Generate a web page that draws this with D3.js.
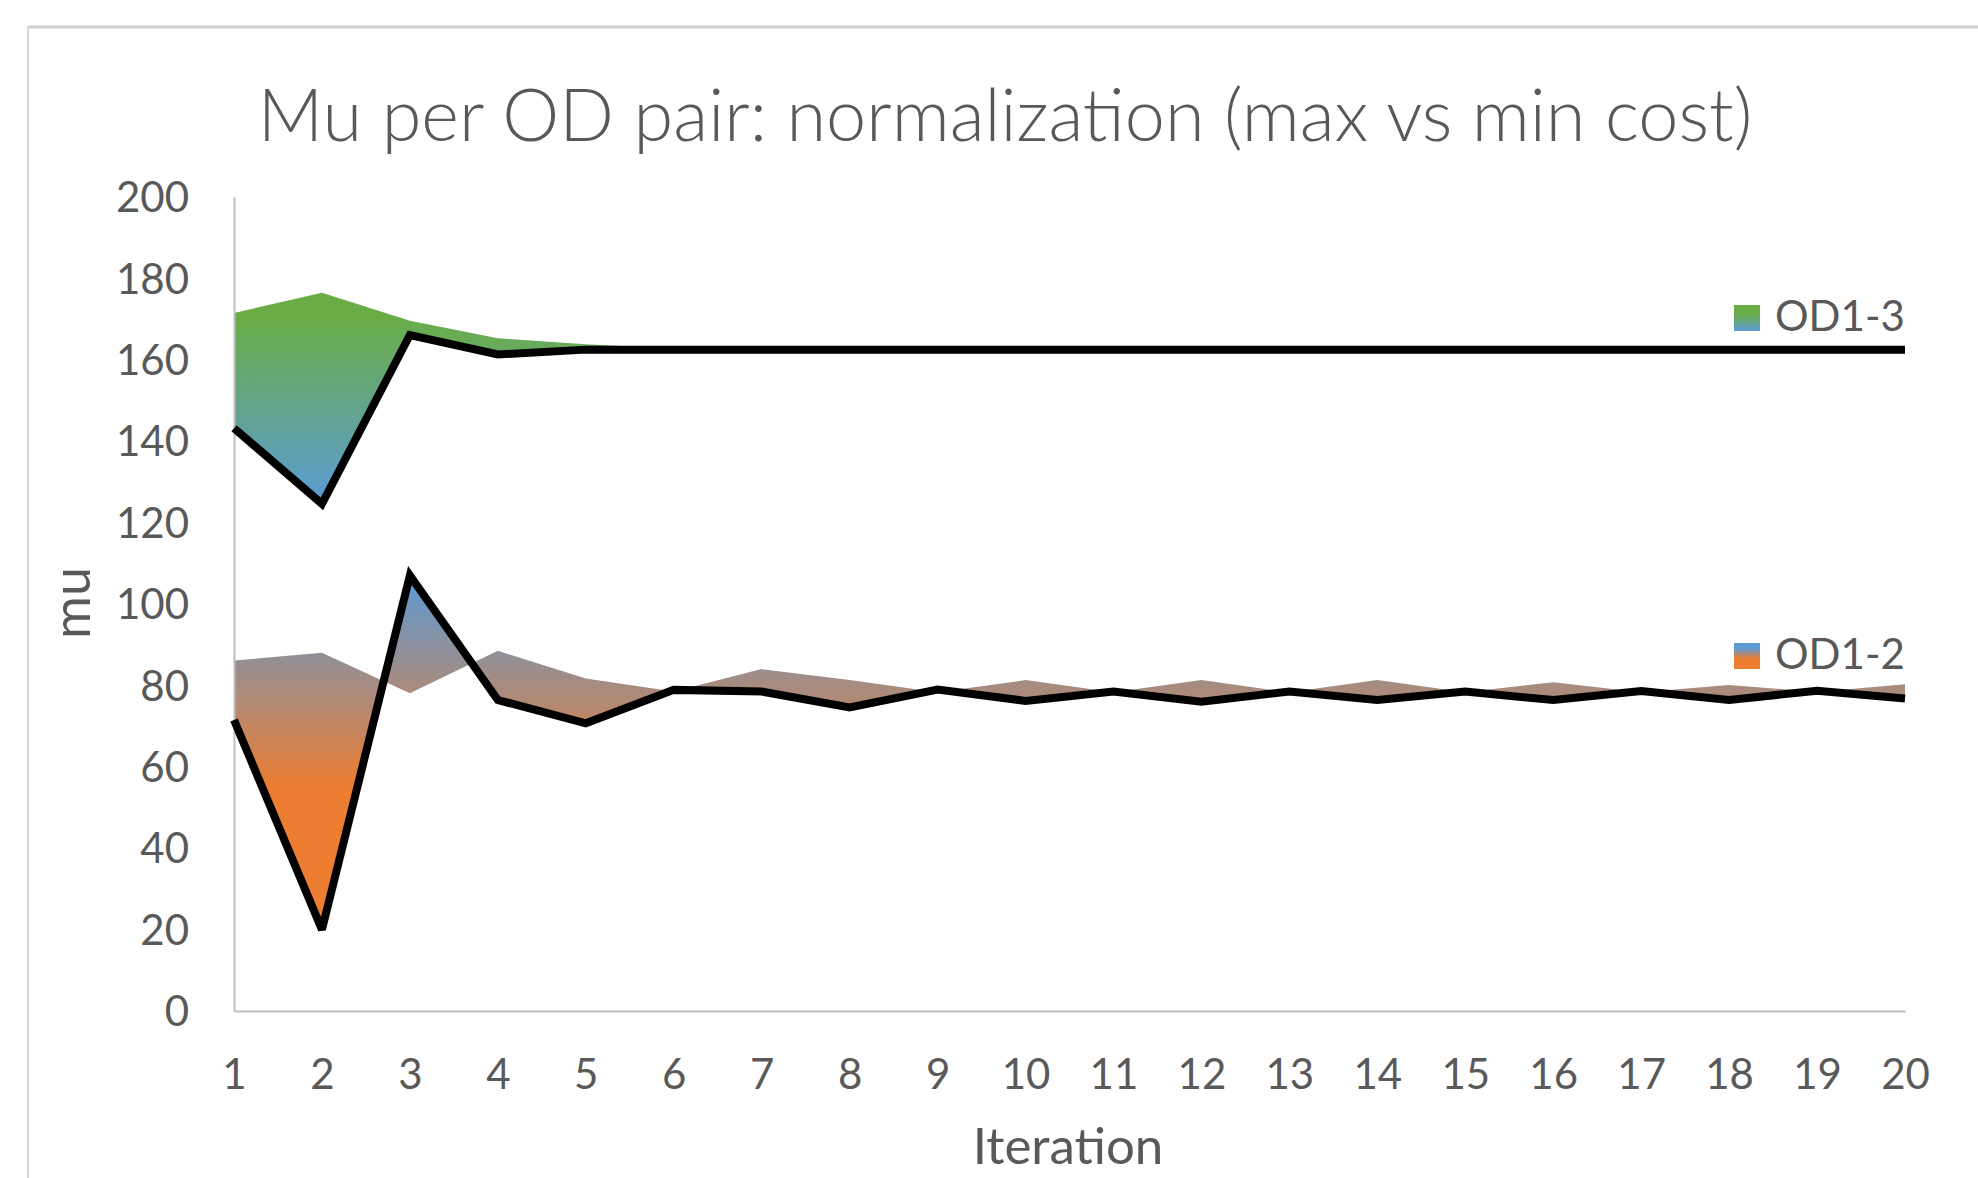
<!DOCTYPE html>
<html>
<head>
<meta charset="utf-8">
<script src="https://cdn.jsdelivr.net/npm/d3@7"></script>
<style>
  body { margin: 0; background: #fff; }
  text { font-family: Lato, "Open Sans", sans-serif; fill: #595959; }
</style>
</head>
<body>
<div id="chart"></div>
<script>
// Data
const iterations = [1, 2, 3, 4, 5, 6, 7, 8, 9, 10, 11, 12, 13, 14, 15, 16, 17, 18, 19, 20];
const yTicks = [0, 20, 40, 60, 80, 100, 120, 140, 160, 180, 200];

// OD1-3: edge of the shaded band, and the black line
const od13Bound = [171.5, 176.5, 169.6, 165.3, 163.8, 162.8, 162.5, 162.5, 162.5, 162.5,
                   162.5, 162.5, 162.5, 162.5, 162.5, 162.5, 162.5, 162.5, 162.5, 162.5];
const od13Line  = [143.2, 124.6, 166.1, 161.3, 162.5, 162.5, 162.5, 162.5, 162.5, 162.5,
                   162.5, 162.5, 162.5, 162.5, 162.5, 162.5, 162.5, 162.5, 162.5, 162.5];

// OD1-2: edge of the shaded band, and the black line
const od12Bound = [86.1, 88.0, 78.1, 88.5, 81.7, 78.5, 84.0, 81.3, 78.3, 81.3,
                   78.3, 81.3, 78.3, 81.3, 78.3, 80.8, 78.3, 80.1, 78.4, 80.3];
const od12Line  = [71.5, 20.0, 107.0, 76.4, 70.7, 78.9, 78.5, 74.6, 79.0, 76.2,
                   78.5, 76.0, 78.5, 76.4, 78.5, 76.4, 78.6, 76.4, 78.7, 76.8];

const seriesNames = ["OD1-3", "OD1-2"];

const width = 1978;
const height = 1178;
const marginTop = 197;
const marginBottom = 167;   // x axis at 1011
const marginLeft = 234;
const marginRight = 73;     // last point at 1905

const x = d3.scaleLinear()
    .domain([1, 20])
    .range([marginLeft, width - marginRight]);

const y = d3.scaleLinear()
    .domain([0, 200])
    .range([height - marginBottom, marginTop]);

const svg = d3.select("#chart")
    .append("svg")
    .attr("width", width)
    .attr("height", height)
    .attr("viewBox", [0, 0, width, height]);

// chart border (Excel chart area, cut off on the right and bottom)
svg.append("rect")
    .attr("x", 28).attr("y", 27)
    .attr("width", width + 20).attr("height", height + 20)
    .attr("fill", "none")
    .attr("stroke", "#d9d9d9")
    .attr("stroke-width", 2);
svg.append("line")
    .attr("x1", 28).attr("x2", width).attr("y1", 27).attr("y2", 27)
    .attr("stroke", "#cfcfcf").attr("stroke-width", 3);

const defs = svg.append("defs");

const green = "#6aad47", blue = "#5b9bd5", orange = "#ed7d31";

function addGradient(id, stops, y1, y2) {
    const g = defs.append("linearGradient").attr("id", id)
        .attr("x1", 0).attr("x2", 0);
    if (y1 === undefined) {
        g.attr("y1", 0).attr("y2", 1);
    } else {
        g.attr("gradientUnits", "userSpaceOnUse")
         .attr("y1", y1).attr("y2", y2);
    }
    g.selectAll("stop").data(stops).join("stop")
        .attr("offset", d => d[0])
        .attr("stop-color", d => d[1]);
}

const stops13 = [[0, green], [0.12, green], [1, blue]];
const stops12 = [[0, blue], [0.6, orange], [1, orange]];

addGradient("g13", stops13,
    y(d3.max(od13Bound.concat(od13Line))), y(d3.min(od13Bound.concat(od13Line))));
addGradient("g12", stops12,
    y(d3.max(od12Bound.concat(od12Line))), y(d3.min(od12Bound.concat(od12Line))));
addGradient("lg13", [[0, green], [0.35, green], [1, blue]]);
addGradient("lg12", [[0, blue], [0.2, blue], [0.6, orange], [1, orange]]);

const series = [
    { name: "OD1-3", bound: od13Bound, line: od13Line, fill: "url(#g13)" },
    { name: "OD1-2", bound: od12Bound, line: od12Line, fill: "url(#g12)" }
];

const area = d3.area()
    .x((d, i) => x(iterations[i]))
    .y0(d => y(d[0]))
    .y1(d => y(d[1]));

const line = d3.line()
    .x((d, i) => x(iterations[i]))
    .y(d => y(d));

// shaded bands
svg.append("g")
    .selectAll("path")
    .data(series)
    .join("path")
    .attr("fill", d => d.fill)
    .attr("d", d => area(d.bound.map((v, i) => [v, d.line[i]])));

// axes
svg.append("g")
    .attr("transform", `translate(0,${y(0)})`)
    .call(d3.axisBottom(x).tickValues(iterations).tickSize(0).tickPadding(0))
    .call(g => g.select(".domain").attr("stroke", "#bfbfbf").attr("stroke-width", 2))
    .call(g => g.selectAll(".tick text")
        .attr("dy", null).attr("y", 78)
        .attr("font-size", 42)
        .attr("font-family", null)
        .attr("fill", null));

svg.append("g")
    .attr("transform", `translate(${marginLeft},0)`)
    .call(d3.axisLeft(y).tickValues(yTicks).tickSize(0).tickPadding(0))
    .call(g => g.select(".domain").attr("stroke", "#bfbfbf").attr("stroke-width", 2))
    .call(g => g.selectAll(".tick text")
        .attr("x", -45).attr("dy", "0.35em")
        .attr("font-size", 42)
        .attr("font-family", null)
        .attr("fill", null));

// black lines
svg.append("g")
    .selectAll("path")
    .data(series)
    .join("path")
    .attr("fill", "none")
    .attr("stroke", "#000")
    .attr("stroke-width", 8)
    .attr("stroke-linejoin", "miter")
    .attr("stroke-miterlimit", 2.5)
    .attr("d", d => line(d.line));

// legend
const legendY = [305, 643];
const legend = svg.append("g")
    .selectAll("g")
    .data(seriesNames)
    .join("g")
    .attr("transform", (d, i) => `translate(1734,${legendY[i]})`);

legend.append("rect")
    .attr("width", 26).attr("height", 26)
    .attr("fill", (d, i) => i === 0 ? "url(#lg13)" : "url(#lg12)");

legend.append("text")
    .attr("x", 41).attr("y", 26)
    .attr("font-size", 42)
    .text(d => d);

// titles
svg.append("text")
    .attr("x", 1005).attr("y", 141)
    .attr("text-anchor", "middle")
    .attr("font-size", 72)
    .attr("font-weight", 300)
    .text("Mu per OD pair: normalization (max vs min cost)");

svg.append("text")
    .attr("transform", "translate(90,603) rotate(-90)")
    .attr("text-anchor", "middle")
    .attr("font-size", 52)
    .text("mu");

svg.append("text")
    .attr("x", 1068).attr("y", 1164)
    .attr("text-anchor", "middle")
    .attr("font-size", 51)
    .text("Iteration");
</script>
</body>
</html>
